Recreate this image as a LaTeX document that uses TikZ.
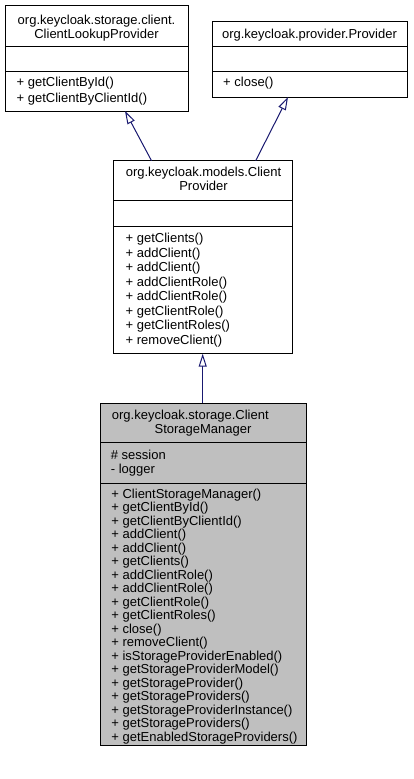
\documentclass[tikz,border=0pt]{standalone}
\usepackage{fontspec}
\setmainfont{Liberation Sans}
\usetikzlibrary{arrows.meta}
\newfontfamily\umlfont{Liberation Sans}
\definecolor{navyline}{HTML}{191970}
\definecolor{grayfill}{HTML}{BFBFBF}
\begin{document}
\begin{tikzpicture}[x=1pt,y=-1pt,
  cls/.style={draw=black, line width=1pt, inner sep=0pt, outer sep=0pt, anchor=north west},
  sep/.style={draw=black, line width=1pt},
  txt/.style={font=\fontsize{13}{14}\umlfont, inner sep=0pt, anchor=base west},
  ttl/.style={font=\fontsize{13}{14}\umlfont, inner sep=0pt, anchor=base},
  inh/.style={draw=navyline, line width=1pt, -{Triangle[length=13pt, width=8pt, fill=white, line width=1pt]}}
]
\useasboundingbox (0,0) rectangle (413,779);
\fill[white] (0,0) rectangle (413,779);

% Box 1: ClientLookupProvider
\node[cls, fill=white, minimum width=183pt, minimum height=106pt] (b1) at (5,5) {};
\draw[sep] (5,46) -- (188,46);
\draw[sep] (5,71) -- (188,71);
\node[ttl] (b1t1) at (96.5,24) {org.keycloak.storage.client.};
\node[ttl] (b1t2) at (96.5,38) {ClientLookupProvider};
\node[txt] (b1m1) at (16.5,86) {+ getClientById()};
\node[txt] (b1m2) at (16.5,102) {+ getClientByClientId()};

% Box 2: Provider
\node[cls, fill=white, minimum width=195pt, minimum height=76pt] (b2) at (212,21) {};
\draw[sep] (212,46) -- (407,46);
\draw[sep] (212,71) -- (407,71);
\node[ttl] (b2t1) at (309.5,38) {org.keycloak.provider.Provider};
\node[txt] (b2m1) at (223,86) {+ close()};

% Box 3: ClientProvider
\node[cls, fill=white, minimum width=179pt, minimum height=193pt] (b3) at (113.7,160.7) {};
\draw[sep] (113.7,200.7) -- (292.7,200.7);
\draw[sep] (113.7,226) -- (292.7,226);
\node[ttl] (b3t1) at (203.5,176.5) {org.keycloak.models.Client};
\node[ttl] (b3t2) at (203.5,190.5) {Provider};
\foreach \t [count=\i from 0] in {getClients(),addClient(),addClient(),addClientRole(),addClientRole(),getClientRole(),getClientRoles(),removeClient()}
  \node[txt] (b3m\i) at (125.5,242.5+14.5*\i) {+ \t};

% Box 4: ClientStorageManager
\node[cls, fill=grayfill, minimum width=205.3pt, minimum height=341.7pt] (b4) at (100.7,403.3) {};
\draw[sep] (100.7,442.7) -- (306,442.7);
\draw[sep] (100.7,483.3) -- (306,483.3);
\node[txt] (b4t1) at (111.7,419.5) {org.keycloak.storage.Client};
\node[ttl] (b4t2) at (203,433.5) {StorageManager};
\node[txt] (b4a1) at (110.7,459.5) {\# session};
\node[txt] (b4a2) at (110.7,473.5) {- logger};
\foreach \t [count=\i from 0] in {ClientStorageManager(),getClientById(),getClientByClientId(),addClient(),addClient(),getClients(),addClientRole(),addClientRole(),getClientRole(),getClientRoles(),close(),removeClient(),isStorageProviderEnabled(),getStorageProviderModel(),getStorageProvider(),getStorageProviders(),getStorageProviderInstance(),getStorageProviders(),getEnabledStorageProviders()}
  \node[txt] (b4m\i) at (111.2,498.5+13.48*\i) {+ \t};

% Connectors
\coordinate (c1s) at (151.5,160.7);
\coordinate (c1e) at (125,111);
\coordinate (c2s) at (255.7,160.7);
\coordinate (c2e) at (288,97);
\coordinate (c3s) at (202.7,403.3);
\coordinate (c3e) at (202.7,353.7);
\draw[inh] (c1s) -- (c1e);
\draw[inh] (c2s) -- (c2e);
\draw[inh] (c3s) -- (c3e);
\end{tikzpicture}
\end{document}
